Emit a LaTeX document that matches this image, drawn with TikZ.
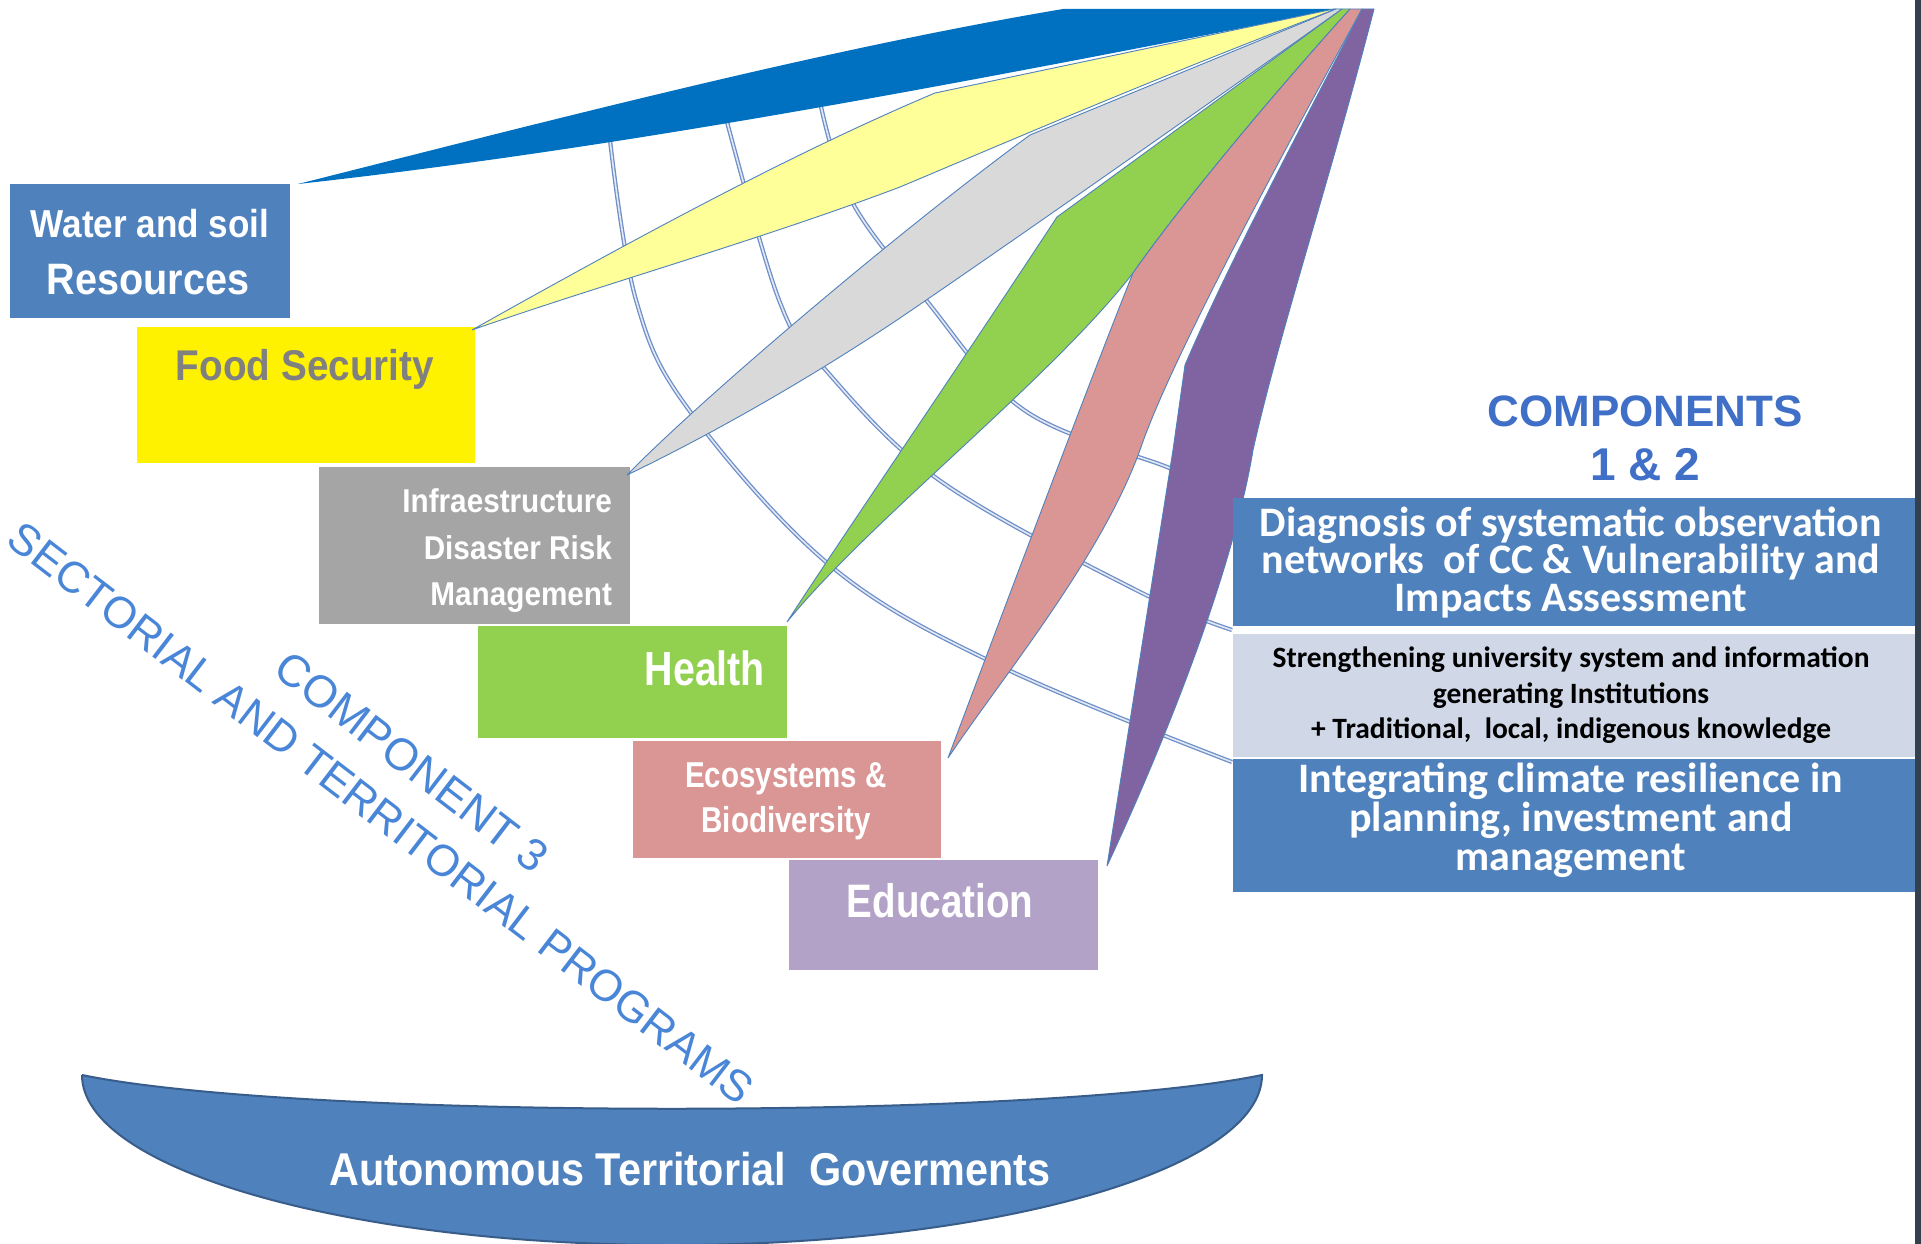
\documentclass[tikz,border=0pt]{standalone}
\usepackage{fontspec}
\setmainfont{Liberation Sans}
\newfontfamily\narrowfont[FakeStretch=0.82]{Liberation Sans}
\newfontfamily\semifont[FakeStretch=0.9]{Liberation Sans}
\newfontfamily\califont{Carlito}
\usetikzlibrary{calc}
\definecolor{officeblue}{HTML}{4F81BD}
\definecolor{wedgeblue}{HTML}{0070C0}
\definecolor{lightyellow}{HTML}{FFFF99}
\definecolor{wedgegray}{HTML}{D9D9D9}
\definecolor{boxgray}{HTML}{A5A5A5}
\definecolor{greenc}{HTML}{92D050}
\definecolor{pinkc}{HTML}{D99694}
\definecolor{purplec}{HTML}{8064A2}
\definecolor{lilac}{HTML}{B3A2C7}
\definecolor{palebox}{HTML}{D0D8E8}
\definecolor{arcline}{HTML}{6F8FC8}
\definecolor{comptext}{HTML}{4A86D8}
\definecolor{headblue}{HTML}{3F6FC6}
\definecolor{edgeblue}{HTML}{4F81BD}
\definecolor{darkstrip}{HTML}{34404E}
\definecolor{bowledge}{HTML}{385D8A}
\tikzset{
  box/.style={rectangle, inner sep=0pt, outer sep=0pt, draw=none, anchor=north west},
  lbl/.style={inner sep=0pt, outer sep=0pt, anchor=base},
  arcstyle/.style={draw=arcline, line width=1.3pt, double=white!80!arcline, double distance=1.6pt},
  wedge/.style={draw=edgeblue, line width=0.9pt, line join=round},
}
\newcommand{\fsz}[1]{\fontsize{#1}{#1}\selectfont}
\begin{document}
\begin{tikzpicture}[x=1pt,y=-1pt]
\useasboundingbox (0,0) rectangle (1921,1244);
\fill[white] (0,0) rectangle (1921,1244);

% ---- arcs (behind everything)
\draw[arcstyle] plot[smooth, tension=0.6] coordinates {(610,140) (636,300) (689,410) (832,567) (1002,667) (1232,762)};
\draw[arcstyle] plot[smooth, tension=0.6] coordinates {(726,118) (779,300) (823,367) (939,480) (1136,590) (1232,630)};
\draw[arcstyle] plot[smooth, tension=0.6] coordinates {(820,102) (851,200) (926,300) (1024,410) (1167,467) (1235,495)};

% ---- boxes on the left
\node[box, fill=officeblue, minimum width=280pt, minimum height=134pt] (water) at (10,184) {};
\node[box, fill=yellow, minimum width=338pt, minimum height=136pt] (food) at (137,327) {};
\node[box, fill=boxgray, minimum width=311pt, minimum height=157pt] (infra) at (319,467) {};
\node[box, fill=greenc, minimum width=309pt, minimum height=112pt] (health) at (478,626) {};
\node[box, fill=pinkc, minimum width=308pt, minimum height=117pt] (eco) at (633,741) {};
\node[box, fill=lilac, minimum width=309pt, minimum height=110pt] (edu) at (789,860) {};

% ---- wedge tips and apex
\coordinate (apex) at (1350,9);
\coordinate (tipW) at (298,184);
\coordinate (tipF) at (472,330);
\coordinate (tipI) at (627,475);
\coordinate (tipH) at (787,622);
\coordinate (tipE) at (948,758);
\coordinate (tipD) at (1107,866);

% blue
\fill[wedgeblue] (tipW) .. controls (560,118) and (820,50) .. (1063,9) -- (1340,9)
  .. controls (1000,75) and (650,145) .. (tipW);
% yellow
\filldraw[wedge, fill=lightyellow] (tipF) .. controls (650,230) and (800,150) .. (935,93) -- (1334,9) -- (1336,9)
  .. controls (1150,80) and (1000,145) .. (900,187) .. controls (760,240) and (600,285) .. (tipF);
% gray
\filldraw[wedge, fill=wedgegray] (tipI) .. controls (700,400) and (900,230) .. (1030,135) -- (1336,9) -- (1342,9)
  .. controls (1200,110) and (1000,250) .. (900,318) .. controls (800,385) and (700,440) .. (tipI);
% green
\filldraw[wedge, fill=greenc] (tipH) .. controls (840,540) and (950,380) .. (1057,217) -- (1342,9) -- (1350,9)
  .. controls (1250,120) and (1170,220) .. (1133,273) .. controls (1050,380) and (870,520) .. (tipH);
% pink
\filldraw[wedge, fill=pinkc] (tipE) .. controls (1000,620) and (1090,380) .. (1133,273)
  .. controls (1170,220) and (1250,120) .. (1350,9) -- (1362,9)
  .. controls (1290,140) and (1170,360) .. (1140,450) .. controls (1100,560) and (1000,680) .. (tipE);
% purple
\filldraw[wedge, fill=purplec] (tipD) -- (1173,450) -- (1185,365)
  .. controls (1230,260) and (1300,130) .. (1362,9) -- (1374,9)
  .. controls (1330,180) and (1280,330) .. (1253,450) .. controls (1235,560) and (1175,720) .. (tipD);

% ---- left box texts
\node[lbl, text=white, font=\semifont\bfseries\fsz{39}] (waterA) at (150,237) {Water and soil};
\node[lbl, text=white, font=\semifont\bfseries\fsz{44}] (waterB) at (148,294) {Resources};
\node[lbl, text=black!50, font=\semifont\bfseries\fsz{43}] (foodT) at (305,380) {Food Security};
\node[lbl, anchor=base east, text=white, font=\semifont\bfseries\fsz{33}] (infraA) at (612,512) {Infraestructure};
\node[lbl, anchor=base east, text=white, font=\semifont\bfseries\fsz{33}] (infraB) at (612,559) {Disaster Risk};
\node[lbl, anchor=base east, text=white, font=\semifont\bfseries\fsz{33}] (infraC) at (612,605) {Management};
\node[lbl, anchor=base east, text=white, font=\narrowfont\bfseries\fsz{48}] (healthT) at (765,685) {Health};
\node[lbl, text=white, font=\narrowfont\bfseries\fsz{36}] (ecoA) at (786,787) {Ecosystems \&};
\node[lbl, text=white, font=\narrowfont\bfseries\fsz{36}] (ecoB) at (786,832) {Biodiversity};
\node[lbl, text=white, font=\narrowfont\bfseries\fsz{47}] (eduT) at (940,917) {Education};

% ---- right side
\fill[darkstrip] (1915,0) rectangle (1921,1244);
\node[lbl, text=headblue, font=\bfseries\fsz{44}] (compA) at (1645,426) {COMPONENTS};
\node[lbl, text=headblue, font=\bfseries\fsz{46}] (compB) at (1645,480) {1 \& 2};

\node[box, fill=officeblue, minimum width=682pt, minimum height=128pt] (diag) at (1233,498) {};
\node[box, fill=palebox, minimum width=682pt, minimum height=123pt] (stren) at (1233,634) {};
\node[box, fill=officeblue, minimum width=682pt, minimum height=133pt] (integ) at (1233,759) {};

\node[lbl, text=white, font=\califont\bfseries\fsz{42}] (diagA) at (1571,536) {Diagnosis of systematic observation};
\node[lbl, text=white, font=\califont\bfseries\fsz{42}] (diagB) at (1571,573) {networks\ \ of CC \& Vulnerability and};
\node[lbl, text=white, font=\califont\bfseries\fsz{42}] (diagC) at (1571,611) {Impacts Assessment};

\node[lbl, text=black, font=\califont\bfseries\fsz{29.5}] (strA) at (1571,667) {Strengthening university system and information};
\node[lbl, text=black, font=\califont\bfseries\fsz{29.5}] (strB) at (1571,703) {generating Institutions};
\node[lbl, text=black, font=\califont\bfseries\fsz{29.5}] (strC) at (1571,738) {+ Traditional,\ \ local, indigenous knowledge};

\node[lbl, text=white, font=\califont\bfseries\fsz{42}] (intA) at (1571,792) {Integrating climate resilience in};
\node[lbl, text=white, font=\califont\bfseries\fsz{42}] (intB) at (1571,831) {planning, investment and};
\node[lbl, text=white, font=\califont\bfseries\fsz{42}] (intC) at (1571,870) {management};

% ---- component 3 rotated texts
\node[inner sep=0pt, text=comptext, font=\fsz{45}, rotate=-37.5] (comp3) at (412,762) {COMPONENT 3};
\node[inner sep=0pt, text=comptext, font=\fsz{44}, rotate=-37.5] (sect) at (381,813) {SECTORIAL AND TERRITORIAL PROGRAMS};

% ---- bowl
\filldraw[fill=officeblue, draw=bowledge, line width=2pt] (82,1075) .. controls (300,1120) and (1044,1120) .. (1262,1075)
  arc[start angle=0, end angle=-180, x radius=590, y radius=-170];
\node[lbl, text=white, font=\semifont\bfseries\fsz{46}] (autT) at (690,1185) {Autonomous Territorial\ \ Goverments};
\end{tikzpicture}
\end{document}
